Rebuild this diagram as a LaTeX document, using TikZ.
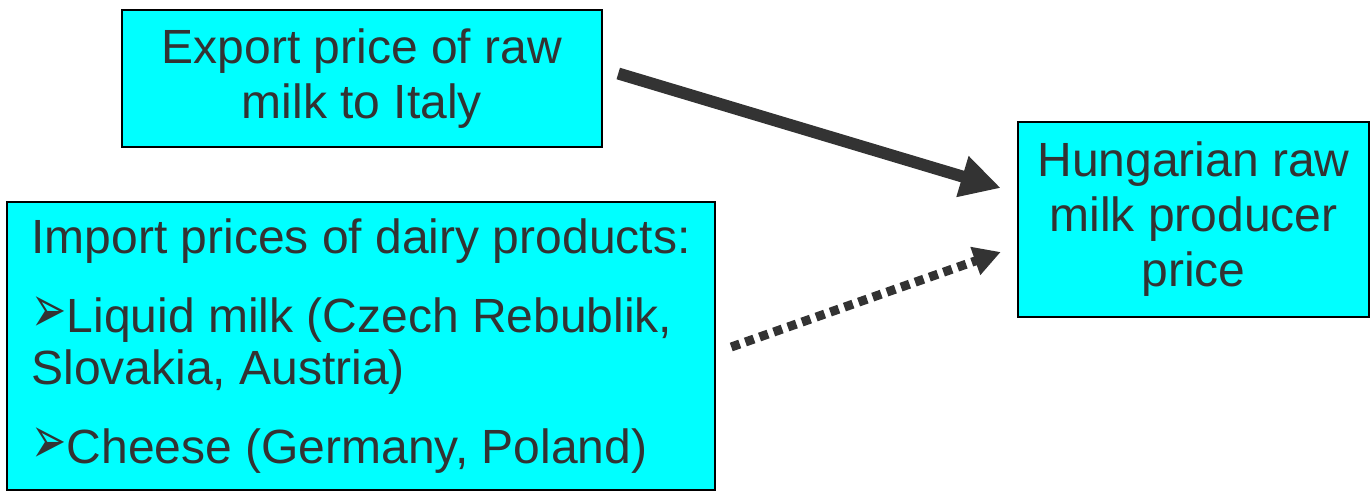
\documentclass[tikz,border=0pt]{standalone}
\usepackage{fontspec}
\setmainfont{Liberation Sans}
\newfontfamily\symfont{DejaVu Sans}
\usetikzlibrary{arrows.meta}
\definecolor{boxcyan}{RGB}{0,255,255}
\definecolor{ink}{RGB}{51,51,51}
\newcommand{\arrowbullet}{\scalebox{1}[1.6]{\symfont\fontsize{42}{52}\selectfont ➢}}

\begin{document}
\begin{tikzpicture}[x=1pt, y=-1pt,
    box/.style={draw=black, line width=2.5pt, fill=boxcyan, text=ink, inner sep=0pt,
        font=\fontsize{48}{55}\selectfont},
    link/.style={draw=ink, line width=12pt, -{Triangle[length=40pt, width=40pt]}},
    weaklink/.style={draw=ink, line width=9pt, dash pattern=on 9pt off 6pt,
        -{Triangle[length=27pt, width=28pt]}}]
    \useasboundingbox (0,0) rectangle (1371,493);

    % Nodes
    \node[box, minimum width=480pt, minimum height=137pt, align=center] (Export) at (362,78.5)
        {Export price of raw\\milk to Italy};
    \node[box, minimum width=708pt, minimum height=288pt, align=left,
        font=\fontsize{48}{52}\selectfont] (Import) at (361,346)
        {Import prices of dairy products:\\[27pt]
         \arrowbullet Liquid milk (Czech Rebublik,\\
         Slovakia, Austria)\\[27pt]
         \arrowbullet Cheese (Germany, Poland)};
    \node[box, minimum width=351pt, minimum height=195pt, align=center] (Producer) at (1193.5,219.5)
        {Hungarian raw\\milk producer\\price};

    % Lines
    \draw[link] ([xshift=15pt, yshift=5pt]Export.east) -- ([xshift=-16pt, yshift=31.5pt]Producer.west);
    \draw[weaklink] ([xshift=15pt, yshift=-1pt]Import.east) -- ([xshift=-16pt, yshift=-32.5pt]Producer.west);

\end{tikzpicture}
\end{document}
